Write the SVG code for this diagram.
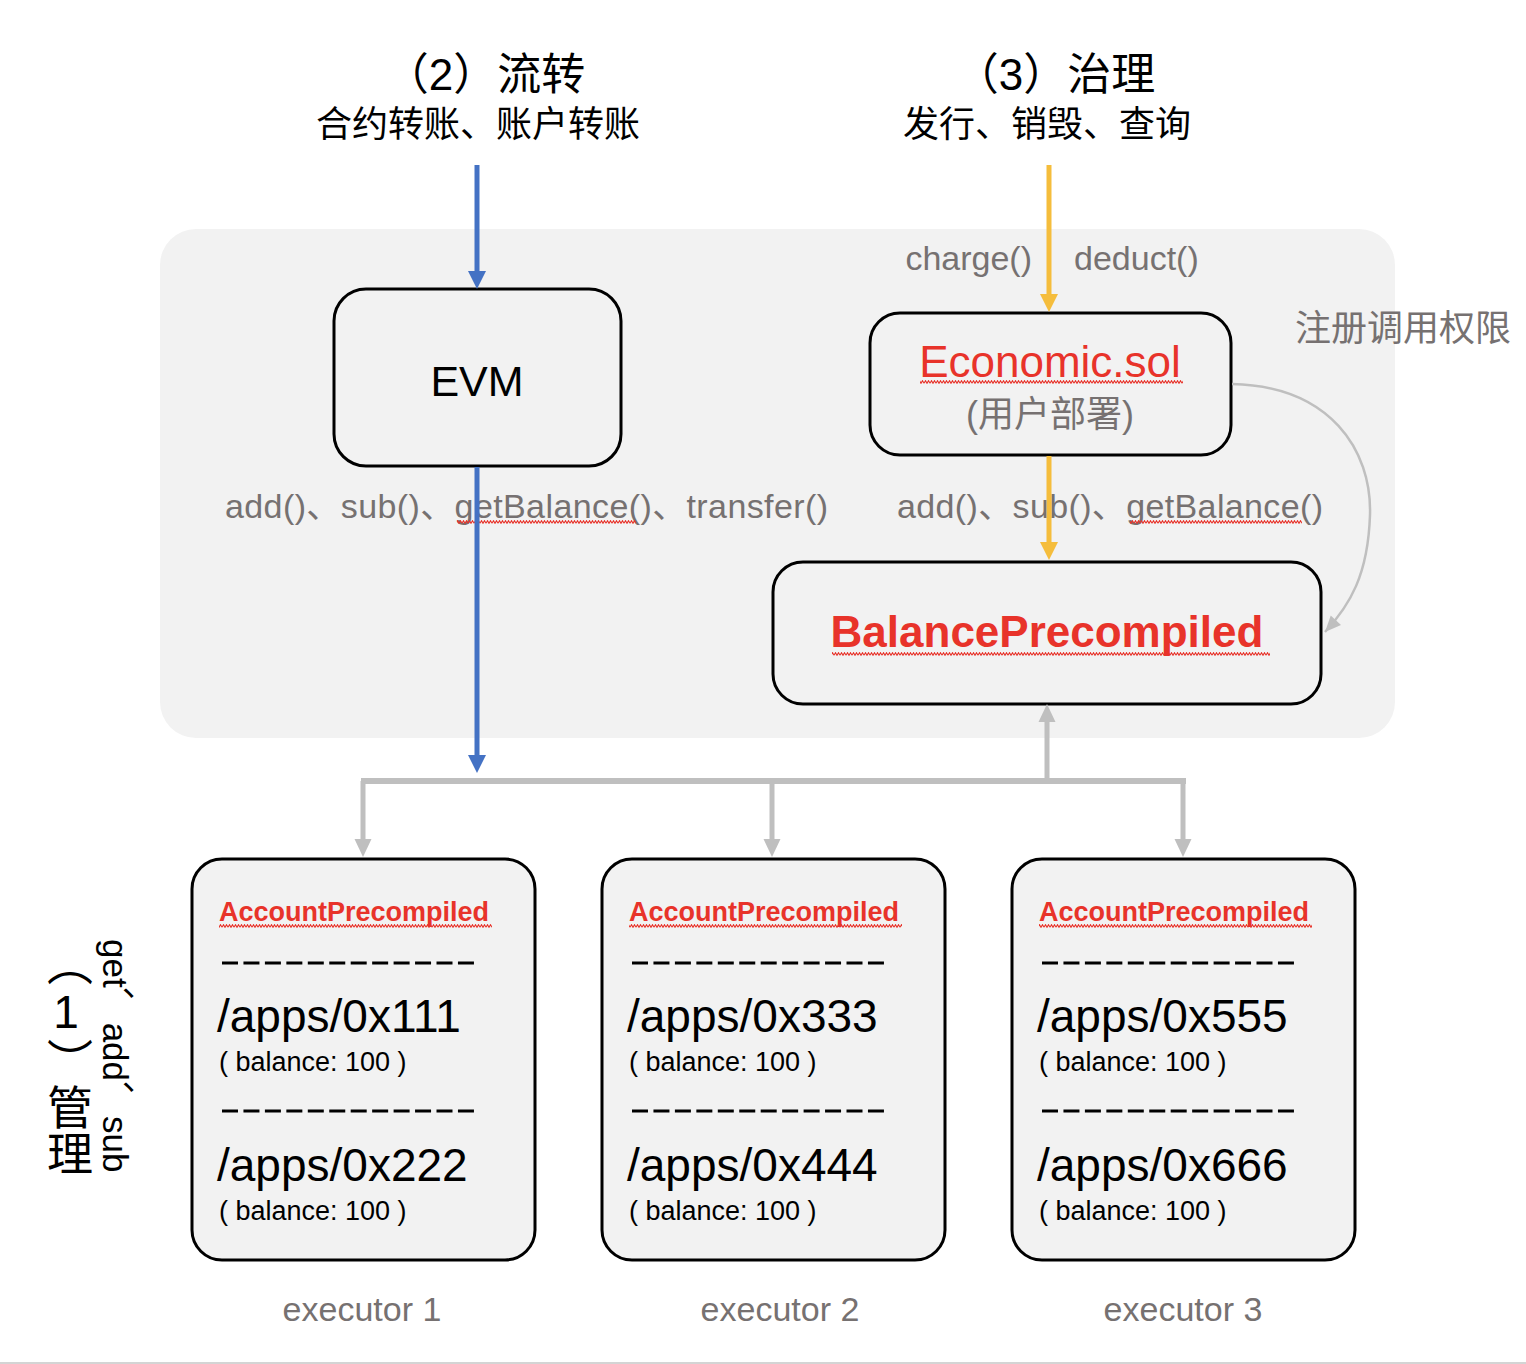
<svg xmlns="http://www.w3.org/2000/svg" width="1526" height="1364" viewBox="0 0 1526 1364">
<style>
.t{font-family:"Liberation Sans","Noto Sans CJK SC",sans-serif}
.blk{fill:#000}
.gry{fill:#767171}
.red{fill:#e8332a}
.b{font-weight:bold}
.box{fill:#f2f2f2;stroke:#000;stroke-width:3}
.dash{stroke:#000;stroke-width:3;stroke-dasharray:16 5.45}
.wv{fill:url(#wavy)}
.blue{stroke:#4472c4;stroke-width:5;fill:none}
.yel{stroke:#f5bd3c;stroke-width:5;fill:none}
.g{stroke:#bfbfbf;stroke-width:5;fill:none}
</style>
<defs>
<pattern id="wavy" width="6" height="4" patternUnits="userSpaceOnUse"><path d="M0,3.3 L1.5,0.7 L3,3.3 L4.5,0.7 L6,3.3" fill="none" stroke="#e8332a" stroke-width="1.1"/></pattern>
<marker id="mb" markerUnits="userSpaceOnUse" markerWidth="18" markerHeight="18" refX="0" refY="9" orient="auto" overflow="visible"><path d="M0,0 L18,9 L0,18 z" fill="#4472c4"/></marker>
<marker id="my" markerUnits="userSpaceOnUse" markerWidth="18" markerHeight="18" refX="0" refY="9" orient="auto" overflow="visible"><path d="M0,0 L18,9 L0,18 z" fill="#f5bd3c"/></marker>
<marker id="mg" markerUnits="userSpaceOnUse" markerWidth="18" markerHeight="18" refX="0" refY="8.5" orient="auto" overflow="visible"><path d="M0,0 L18,8.5 L0,17 z" fill="#bfbfbf"/></marker>
<marker id="mc" markerUnits="userSpaceOnUse" markerWidth="16" markerHeight="14" refX="16" refY="7" orient="auto" overflow="visible"><path d="M0,0 L16,7 L0,14 z" fill="#bfbfbf"/></marker>
</defs>
<rect x="0" y="0" width="1526" height="1364" fill="#fff"/>
<rect x="160" y="229" width="1235" height="509" rx="36" fill="#f2f2f2"/>
<rect x="0" y="1362" width="1526" height="2" fill="#d4d4d4"/>

<g id="titles" class="t">
<text x="485" y="90" font-size="44" text-anchor="middle" class="blk">（2）流转</text>
<text x="478" y="137" font-size="36" text-anchor="middle" class="blk">合约转账、账户转账</text>
<text x="1055" y="90" font-size="44" text-anchor="middle" class="blk">（3）治理</text>
<text x="1047" y="137" font-size="36" text-anchor="middle" class="blk">发行、销毁、查询</text>
<text x="1295" y="341" font-size="36" class="gry">注册调用权限</text>
<text x="1032" y="270" font-size="34" text-anchor="end" class="gry">charge()</text>
<text x="1074" y="270" font-size="34" class="gry">deduct()</text>
<text x="225" y="518" font-size="34" textLength="603" class="gry">add()、sub()、getBalance()、transfer()</text>
<rect x="457" y="520" width="179" height="4" class="wv"/>
<text x="897" y="518" font-size="34" textLength="426" class="gry">add()、sub()、getBalance()</text>
<rect x="1130" y="520" width="172" height="4" class="wv"/>
<text x="66" y="940" font-size="46" class="blk" style="writing-mode:vertical-rl;text-orientation:upright" glyph-orientation-vertical="0">（1）管理</text>
<text x="115" y="939" font-size="35" class="blk" style="writing-mode:vertical-rl">get、add、sub</text>
</g>

<g id="evm">
<rect x="334" y="289" width="287" height="177" rx="32" class="box"/>
<text x="477" y="396" font-size="43" text-anchor="middle" class="t blk">EVM</text>
</g>

<g id="economic">
<rect x="870" y="313" width="361" height="142" rx="30" class="box"/>
<text x="1050" y="377" font-size="44" text-anchor="middle" class="t red">Economic.sol</text>
<rect x="920" y="380" width="263" height="4" class="wv"/>
<text x="1050" y="427" font-size="36" text-anchor="middle" class="t gry">(用户部署)</text>
</g>

<g id="balance">
<rect x="773" y="562" width="548" height="142" rx="30" class="box"/>
<text x="1047" y="647" font-size="44" text-anchor="middle" class="t red b">BalancePrecompiled</text>
<rect x="832" y="652" width="438" height="4" class="wv"/>
</g>

<g id="executor1">
<rect x="192" y="859" width="343" height="401" rx="30" class="box"/>
<text x="219" y="921" font-size="27" class="t red b">AccountPrecompiled</text>
<rect x="219" y="924" width="273" height="4" class="wv"/>
<line x1="222" y1="963" x2="474" y2="963" class="dash"/>
<text x="217" y="1032" font-size="46" class="t blk">/apps/0x111</text>
<text x="219" y="1071" font-size="27" class="t blk">( balance: 100 )</text>
<line x1="222" y1="1111" x2="474" y2="1111" class="dash"/>
<text x="217" y="1181" font-size="46" class="t blk">/apps/0x222</text>
<text x="219" y="1220" font-size="27" class="t blk">( balance: 100 )</text>
<text x="362" y="1321" font-size="34" text-anchor="middle" class="t gry">executor 1</text>
</g>

<g id="executor2">
<rect x="602" y="859" width="343" height="401" rx="30" class="box"/>
<text x="629" y="921" font-size="27" class="t red b">AccountPrecompiled</text>
<rect x="629" y="924" width="273" height="4" class="wv"/>
<line x1="632" y1="963" x2="884" y2="963" class="dash"/>
<text x="627" y="1032" font-size="46" class="t blk">/apps/0x333</text>
<text x="629" y="1071" font-size="27" class="t blk">( balance: 100 )</text>
<line x1="632" y1="1111" x2="884" y2="1111" class="dash"/>
<text x="627" y="1181" font-size="46" class="t blk">/apps/0x444</text>
<text x="629" y="1220" font-size="27" class="t blk">( balance: 100 )</text>
<text x="780" y="1321" font-size="34" text-anchor="middle" class="t gry">executor 2</text>
</g>

<g id="executor3">
<rect x="1012" y="859" width="343" height="401" rx="30" class="box"/>
<text x="1039" y="921" font-size="27" class="t red b">AccountPrecompiled</text>
<rect x="1039" y="924" width="273" height="4" class="wv"/>
<line x1="1042" y1="963" x2="1294" y2="963" class="dash"/>
<text x="1037" y="1032" font-size="46" class="t blk">/apps/0x555</text>
<text x="1039" y="1071" font-size="27" class="t blk">( balance: 100 )</text>
<line x1="1042" y1="1111" x2="1294" y2="1111" class="dash"/>
<text x="1037" y="1181" font-size="46" class="t blk">/apps/0x666</text>
<text x="1039" y="1220" font-size="27" class="t blk">( balance: 100 )</text>
<text x="1183" y="1321" font-size="34" text-anchor="middle" class="t gry">executor 3</text>
</g>

<g id="connectors">
<path d="M477,165 V271" class="blue" marker-end="url(#mb)"/>
<path d="M477,467 V755" class="blue" marker-end="url(#mb)"/>
<path d="M1049,165 V294" class="yel" marker-end="url(#my)"/>
<path d="M1049,456 V542" class="yel" marker-end="url(#my)"/>
<path d="M361,781 H1186" class="g" style="stroke-width:6"/>
<path d="M363,781 V839" class="g" marker-end="url(#mg)"/>
<path d="M772,781 V839" class="g" marker-end="url(#mg)"/>
<path d="M1183,781 V839" class="g" marker-end="url(#mg)"/>
<path d="M1047,784 V722" class="g" marker-end="url(#mg)"/>
<path d="M1232,384 C1330,386 1372,450 1370,515 C1368,575 1350,605 1325,632" fill="none" stroke="#bfbfbf" stroke-width="2.5" marker-end="url(#mc)"/>
</g>
</svg>
